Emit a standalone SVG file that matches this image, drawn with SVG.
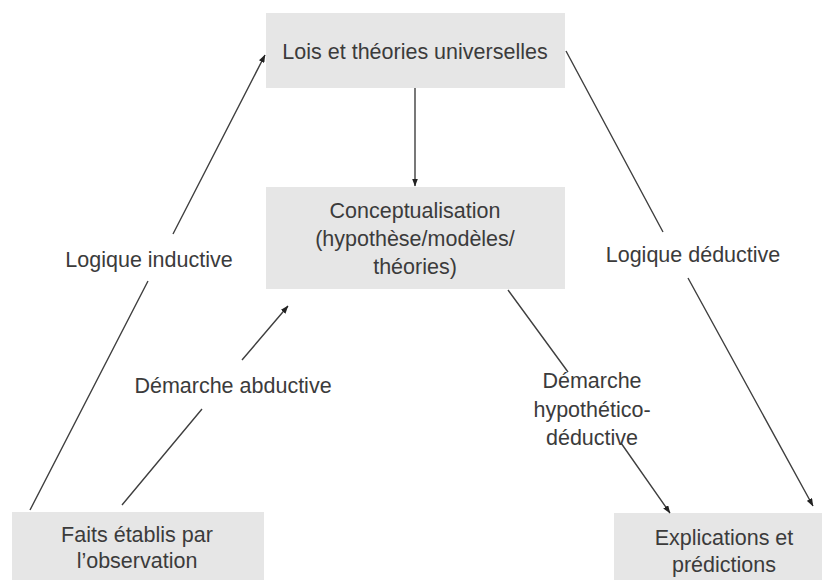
<svg xmlns="http://www.w3.org/2000/svg" width="822" height="580" viewBox="0 0 822 580">
<style>
  .box { fill: #e6e6e6; }
  .t { font-family: "Liberation Sans", Arial, sans-serif; font-size: 21.5px; fill: #3b3b3b; text-anchor: middle; }
  .c { fill: none; stroke: #3f3f3f; stroke-width: 1.4; marker-end: url(#ah); }
</style>
<defs>
  <marker id="ah" markerUnits="userSpaceOnUse" markerWidth="8" markerHeight="6" refX="7.5" refY="3" orient="auto">
    <path d="M0,0 L8,3 L0,6 z" fill="#222222"/>
  </marker>
</defs>
<rect width="822" height="580" fill="#ffffff"/>
<g id="n-lois">
  <rect class="box" x="266" y="13" width="299" height="75"/>
  <text class="t" x="415" y="59">Lois et théories universelles</text>
</g>
<g id="n-concept">
  <rect class="box" x="266" y="187" width="299" height="102"/>
  <text class="t" x="415" y="218">Conceptualisation</text>
  <text class="t" x="415" y="246">(hypothèse/modèles/</text>
  <text class="t" x="415" y="274">théories)</text>
</g>
<g id="n-faits">
  <rect class="box" x="12" y="512" width="252" height="80"/>
  <text class="t" x="137" y="542">Faits établis par</text>
  <text class="t" x="137" y="568">l’observation</text>
</g>
<g id="n-expl">
  <rect class="box" x="614" y="513" width="220" height="80"/>
  <text class="t" x="724" y="545">Explications et</text>
  <text class="t" x="724" y="572">prédictions</text>
</g>
<g id="connectors">
  <path class="c" d="M30,510 L148,281 M173,234 L265,55"/>
  <path class="c" d="M122,505 L202,409 M242,360 L288,306"/>
  <path class="c" d="M415,88 L415,186"/>
  <path class="c" d="M566,51 L663,232 M688,278 L813,506"/>
  <path class="c" d="M508,290 L568,372 M621,443 L670,513"/>
</g>
<g id="labels">
  <text class="t" x="149" y="267">Logique inductive</text>
  <text class="t" x="233" y="393">Démarche abductive</text>
  <text class="t" x="693" y="262">Logique déductive</text>
  <text class="t" x="592" y="388">Démarche</text>
  <text class="t" x="592" y="417">hypothético-</text>
  <text class="t" x="592" y="445">déductive</text>
</g>
</svg>
